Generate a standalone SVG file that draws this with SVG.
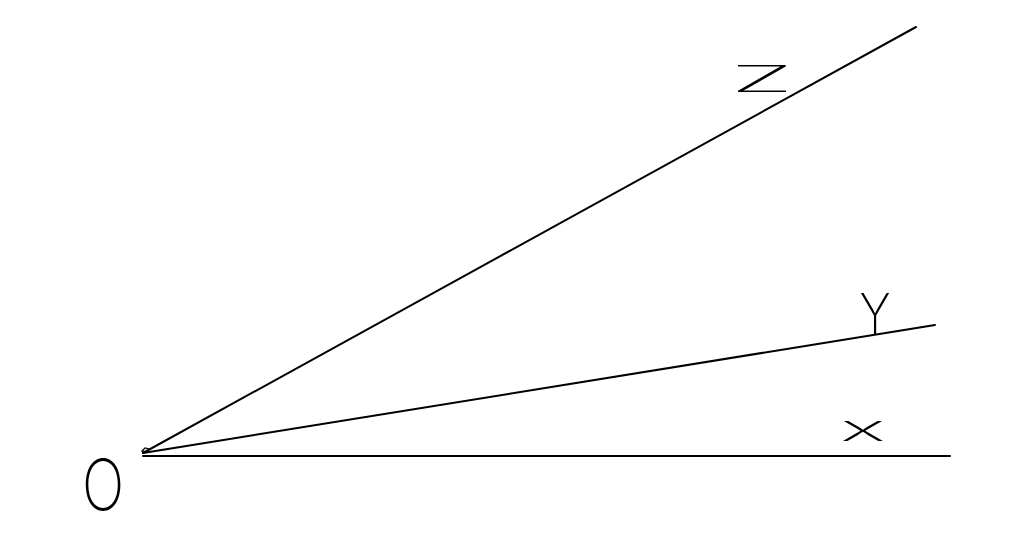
<svg xmlns="http://www.w3.org/2000/svg" width="1024" height="542" viewBox="0 0 1024 542">
<style>
.ax{stroke:#000;stroke-width:2;fill:none;stroke-linecap:round}
.lb{font-family:Inter,"DejaVu Sans",sans-serif;font-weight:200;fill:#000}
</style>
<rect width="1024" height="542" fill="#fff"/>
<g id="connectors">
<line class="ax" x1="143" y1="453" x2="916" y2="27"/>
<line class="ax" x1="143" y1="453" x2="935" y2="325"/>
<line class="ax" x1="143" y1="456" x2="950" y2="456"/>
<path d="M142,451 l3,-3 l4,1 l-1,3 z" stroke="#000" stroke-width="1.2" fill="none"/>
</g>
<g id="label-z"><text class="lb" x="762" y="92" font-size="39" text-anchor="middle" transform="translate(762,92) scale(2.6,0.95) translate(-762,-92)">Z</text></g>
<g id="label-y"><text class="lb" x="875" y="334" font-size="56" text-anchor="middle" transform="translate(875,334) scale(0.85,1) translate(-875,-334)">Y</text></g>
<g id="label-x"><text class="lb" x="863" y="441" font-size="40" text-anchor="middle" transform="translate(863,441) scale(2.2,0.9) translate(-863,-441)">x</text></g>
<g id="label-o"><text class="lb" x="103" y="510" font-size="70" text-anchor="middle" transform="translate(103,510) scale(0.8,1) translate(-103,-510)">O</text></g>
</svg>
